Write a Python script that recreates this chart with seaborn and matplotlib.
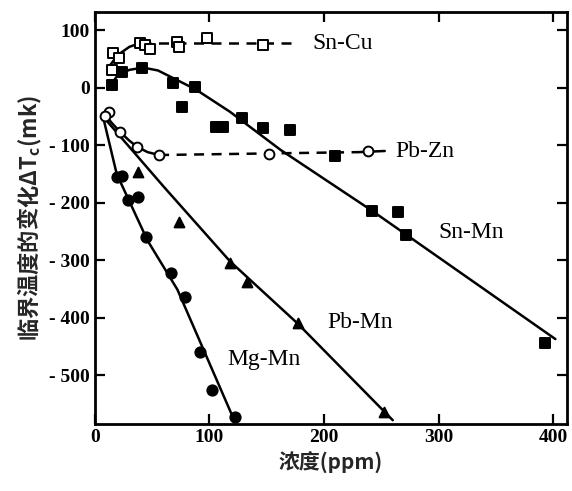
import matplotlib
matplotlib.use("Agg")
import matplotlib.pyplot as plt
import numpy as np
import pandas as pd
import seaborn as sns
from matplotlib.ticker import FuncFormatter, MultipleLocator

# ---------------- data ----------------
# Sn-Cu : open squares
sncu_x = [15, 16, 21, 39, 44, 48, 72, 73, 98, 147]
sncu_y = [31, 61, 52, 78, 75, 68, 80, 71, 87, 75]
sncu_curve_x = [12, 20, 30, 40]
sncu_curve_y = [36, 57, 71, 78]
sncu_dash_x = [40, 177]
sncu_dash_y = [78, 78]

# Sn-Mn : filled squares
snmn_x = [15, 24, 41, 68, 87, 76, 106, 112, 128, 147, 170, 210, 242, 265, 272, 393]
snmn_y = [5, 28, 35, 9, 2, -33, -68, -68, -52, -70, -73, -118, -214, -216, -256, -443]
snmn_line_x = [13, 20, 30, 42, 55, 70, 88, 118, 162, 242, 402]
snmn_line_y = [3, 22, 31, 35, 30, 15, -3, -42, -108, -214, -437]

# Pb-Zn : open circles
pbzn_x = [12, 9, 22, 37, 56, 152, 238]
pbzn_y = [-42, -50, -77, -103, -117, -115, -110]
pbzn_curve_x = [8, 15, 22, 30, 37, 46, 56]
pbzn_curve_y = [-45, -62, -77, -92, -103, -112, -117]
pbzn_dash_x = [56, 230]
pbzn_dash_y = [-117, -112]
pbzn_tail_x = [230, 253]
pbzn_tail_y = [-112, -110]

# Pb-Mn : filled triangles
pbmn_x = [38, 73, 118, 133, 177, 252]
pbmn_y = [-146, -233, -304, -337, -409, -563]
pbmn_line_x = [7, 60, 118, 177, 260]
pbmn_line_y = [-50, -172, -302, -410, -578]

# Mg-Mn : filled circles
mgmn_x = [19, 24, 29, 38, 45, 66, 79, 92, 102, 122]
mgmn_y = [-155, -153, -195, -190, -259, -322, -363, -459, -525, -572]
mgmn_line_x = [7, 19, 46, 72, 122]
mgmn_line_y = [-50, -150, -266, -351, -580]

labels = ["Sn-Cu", "Pb-Zn", "Sn-Mn", "Pb-Mn", "Mg-Mn"]
label_x = [190, 262, 300, 203, 116]
label_y = [77, -111, -252, -409, -473]

# ---------------- style ----------------
sns.set_theme(style="ticks")
plt.rcParams['font.family'] = ['Liberation Serif', 'Noto Sans CJK SC', 'DejaVu Sans']
plt.rcParams['axes.unicode_minus'] = False

fig = plt.figure(figsize=(5.72, 4.91), dpi=100)
ax = fig.add_axes([0.166, 0.136, 0.825, 0.840])

lw = 1.8


def line(x, y, ls='-'):
    sns.lineplot(x=x, y=y, sort=False, estimator=None, color='black',
                 linewidth=lw, linestyle=ls, ax=ax)


def dots(x, y, marker, filled, size=55):
    sns.scatterplot(x=x, y=y, marker=marker, s=size,
                    facecolor='black' if filled else 'white',
                    edgecolor='black', linewidth=1.4, zorder=5, ax=ax)


# Sn-Cu
line(sncu_curve_x, sncu_curve_y)
line(sncu_dash_x, sncu_dash_y, ls=(0, (4, 3)))
dots(sncu_x, sncu_y, 's', False, 50)

# Sn-Mn
line(snmn_line_x, snmn_line_y)
dots(snmn_x, snmn_y, 's', True, 42)

# Pb-Zn
line(pbzn_curve_x, pbzn_curve_y)
line(pbzn_dash_x, pbzn_dash_y, ls=(0, (4, 3)))
line(pbzn_tail_x, pbzn_tail_y)
dots(pbzn_x, pbzn_y, 'o', False, 50)

# Pb-Mn
line(pbmn_line_x, pbmn_line_y)
dots(pbmn_x, pbmn_y, '^', True, 50)

# Mg-Mn
line(mgmn_line_x, mgmn_line_y)
dots(mgmn_x, mgmn_y, 'o', True, 55)

for t, x, y in zip(labels, label_x, label_y):
    ax.text(x, y, t, fontsize=17, ha='left', va='center', color='black')

# ---------------- axes ----------------
ax.set_xlim(0, 412)
ax.set_ylim(-585, 132)
ax.xaxis.set_major_locator(MultipleLocator(100))
ax.yaxis.set_major_locator(MultipleLocator(100))
ax.yaxis.set_major_formatter(FuncFormatter(
    lambda v, p: f"- {abs(int(v))}" if v < 0 else f"{int(v)}"))
ax.tick_params(direction='in', top=True, right=True, length=7, width=1.6,
               labelsize=14, colors='black')
for lab in ax.get_xticklabels() + ax.get_yticklabels():
    lab.set_fontweight('bold')
for s in ax.spines.values():
    s.set_linewidth(2)
    s.set_color('black')

ax.set_xlabel('浓度(ppm)', fontsize=15, fontweight='bold',
              family=['Noto Sans CJK SC', 'DejaVu Sans'])
ax.set_ylabel('临界温度的变化ΔT$_\\mathregular{c}$(mk)', fontsize=16, fontweight='bold',
              family=['Noto Sans CJK SC', 'DejaVu Sans'], labelpad=4)

plt.savefig('out.png', dpi=100)
